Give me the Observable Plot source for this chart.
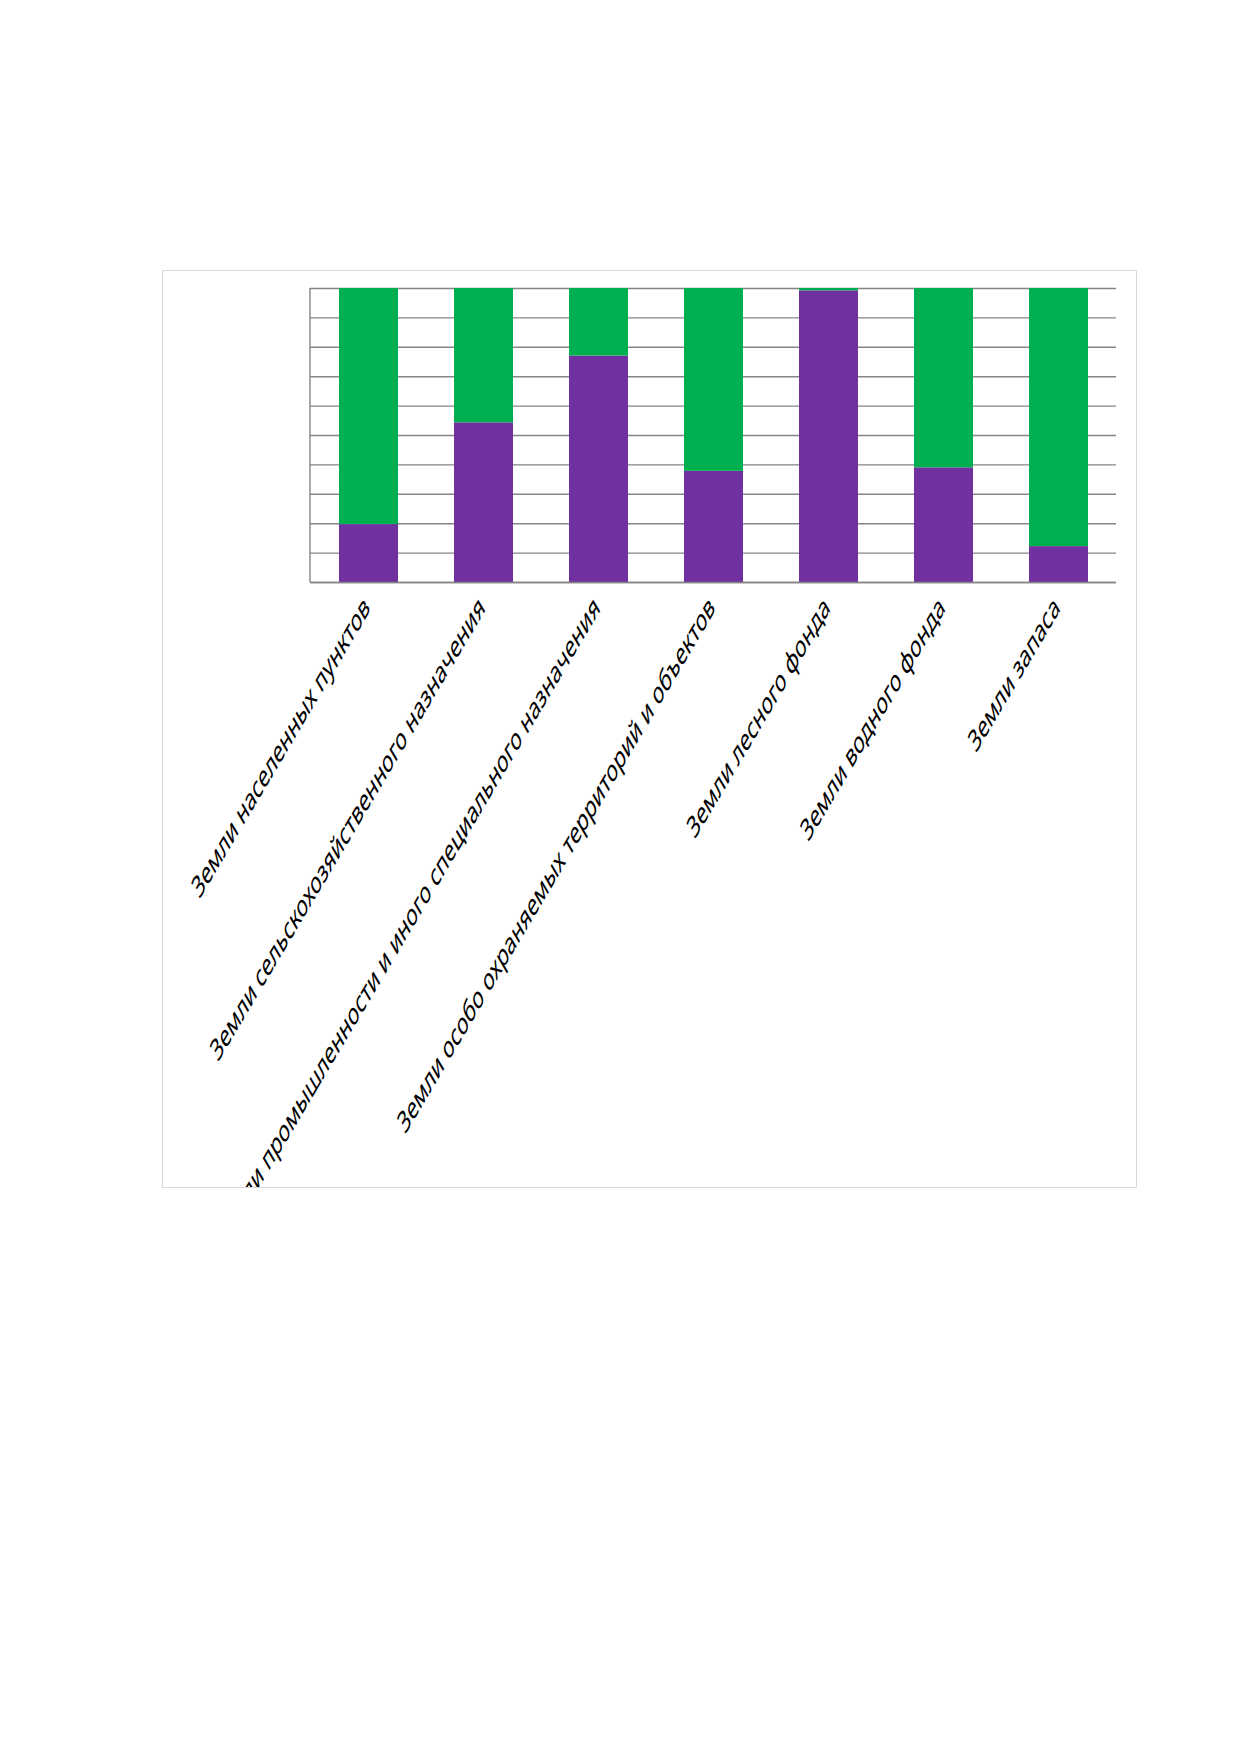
<!DOCTYPE html>
<html>
<head>
<meta charset="utf-8">
<script src="https://cdn.jsdelivr.net/npm/d3@7"></script>
<script src="https://cdn.jsdelivr.net/npm/@observablehq/plot@0.6"></script>
<style>
  html, body { margin: 0; padding: 0; background: #fff; }
  #frame {
    position: absolute; left: 162px; top: 270px;
    width: 973px; height: 916px;
    border: 1px solid #d9d9d9; overflow: hidden; background: #fff;
  }
</style>
</head>
<body>
<div id="frame"></div>
<script>
const categories = [
  "Земли населенных пунктов",
  "Земли сельскохозяйственного назначения",
  "Земли промышленности и иного специального назначения",
  "Земли особо охраняемых территорий и объектов",
  "Земли лесного фонда",
  "Земли водного фонда",
  "Земли запаса"
];
const seriesNames = ["Серия 1", "Серия 2"];
const purpleShare = [19.7, 54.3, 77.0, 37.8, 99.2, 39.0, 12.2];
const greenShare  = [80.3, 45.7, 23.0, 62.2, 0.8, 61.0, 87.8];
const gridTicks = [0, 10, 20, 30, 40, 50, 60, 70, 80, 90, 100];
const seriesColors = ["#7030A0", "#00B050"];

const rows = [];
categories.forEach((c, i) => {
  rows.push({cat: c, series: seriesNames[0], value: purpleShare[i]});
  rows.push({cat: c, series: seriesNames[1], value: greenShare[i]});
});

const leftLine = (index, scales, values, dims) => {
  const g = d3.create("svg:line")
    .attr("x1", dims.marginLeft).attr("x2", dims.marginLeft)
    .attr("y1", scales.y(100)).attr("y2", scales.y(0))
    .attr("stroke", "#858585").attr("stroke-width", 1.4);
  return g.node();
};

const chart = Plot.plot({
  width: 973,
  height: 916,
  marginLeft: 147,
  marginRight: 20,
  marginTop: 17,
  marginBottom: 605,
  style: {fontFamily: "'Noto Sans', sans-serif", background: "transparent", overflow: "hidden"},
  x: {domain: categories, paddingInner: 0.49, paddingOuter: 0.245, axis: null},
  y: {domain: [0, 100], axis: null},
  color: {domain: seriesNames, range: seriesColors},
  marks: [
    Plot.ruleY(gridTicks, {stroke: "#858585", strokeWidth: 1.4, strokeOpacity: 1}),
    Plot.barY(rows, Plot.stackY({x: "cat", y: "value", fill: "series", order: null})),
    Plot.ruleY([0], {stroke: "#858585", strokeWidth: 1.4}),
    leftLine,
    Plot.text(categories, {
      x: d => d, y: () => 0,
      textAnchor: "end", lineAnchor: "middle",
      rotate: -45, dx: -2, dy: 20,
      fontSize: 18.2, fill: "#000",
      className: "cat-labels"
    })
  ]
});

chart.querySelectorAll("text").forEach(t => {
  const tr = t.getAttribute("transform");
  if (tr && tr.includes("rotate(-45)")) {
    t.setAttribute("transform", tr.replace("rotate(-45)", "scale(1,1.69) rotate(-45)"));
  }
});

document.getElementById("frame").appendChild(chart);
</script>
</body>
</html>
